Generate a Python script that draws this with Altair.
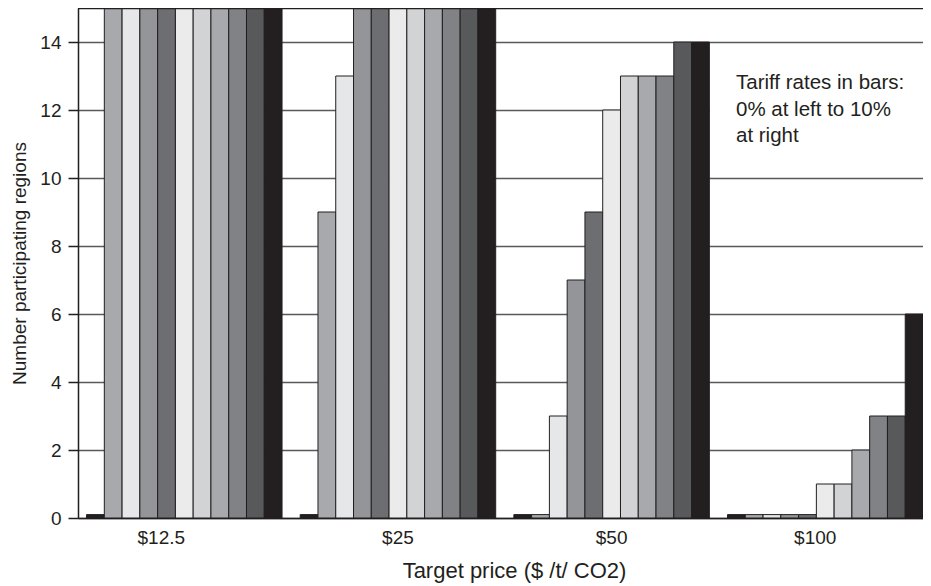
import altair as alt
import pandas as pd

# ---- data ----
prices = ["$12.5", "$25", "$50", "$100"]
tariffs = ["0%", "1%", "2%", "3%", "4%", "5%", "6%", "7%", "8%", "9%", "10%"]
vals_125 = [0.1, 15, 15, 15, 15, 15, 15, 15, 15, 15, 15]
vals_25 = [0.1, 9, 13, 15, 15, 15, 15, 15, 15, 15, 15]
vals_50 = [0.1, 0.1, 3, 7, 9, 12, 13, 13, 13, 14, 14]
vals_100 = [0.1, 0.1, 0.1, 0.1, 0.1, 1, 1, 2, 3, 3, 6]
bar_colors = ["#231f20", "#a7a9ac", "#e6e7e8", "#939598", "#6d6e71", "#ebebec",
              "#d1d3d4", "#a7a9ac", "#808285", "#58595b", "#231f20"]
y_ticks = [0, 2, 4, 6, 8, 10, 12, 14]
annot_text = "Tariff rates in bars:\n0% at left to 10%\nat right"
x_title = "Target price ($ /t/ CO2)"
y_title = "Number participating regions"

rows = []
for p, vals in zip(prices, [vals_125, vals_25, vals_50, vals_100]):
    for t, v in zip(tariffs, vals):
        rows.append({"price": p, "tariff": t, "value": v})
df = pd.DataFrame(rows)

W, H = 845, 510
FONT = "Liberation Sans"
INK = "#231f20"

bars = alt.Chart(df).mark_bar(stroke=INK, strokeWidth=1).encode(
    x=alt.X(
        "price:N",
        sort=prices,
        scale=alt.Scale(paddingInner=0.085, paddingOuter=0.02, align=1),
        axis=alt.Axis(
            title=x_title,
            ticks=False,
            labelAngle=0,
            labelPadding=10,
            labelBaseline="top",
            labelFontSize=19,
            labelOffset={"condition": [
                {"test": "datum.value == '$12.5'", "value": -23},
                {"test": "datum.value == '$100'", "value": -10},
            ], "value": 0},
            titleFontSize=22,
            titlePadding=13,
            titleX=436,
            domainColor=INK,
            domainWidth=1.5,
        ),
    ),
    xOffset=alt.XOffset("tariff:N", sort=tariffs,
                        scale=alt.Scale(paddingInner=0, paddingOuter=0)),
    y=alt.Y(
        "value:Q",
        scale=alt.Scale(domain=[0, 15], nice=False),
        axis=alt.Axis(
            title=y_title,
            values=y_ticks,
            grid=True,
            gridColor="#58595b",
            gridWidth=1.5,
            tickSize=10,
            tickColor=INK,
            tickWidth=1.5,
            labelPadding=7,
            labelFontSize=19,
            titleFontSize=19,
            titlePadding=10,
            domainColor=INK,
            domainWidth=1.5,
        ),
    ),
    color=alt.Color("tariff:N", sort=tariffs,
                    scale=alt.Scale(domain=tariffs, range=bar_colors), legend=None),
)

# white backing behind the annotation (hides the gridline there, as in the reference)
annot_bg = alt.Chart(pd.DataFrame({"a": [0]})).mark_rect(color="white").encode(
    x=alt.value(632), x2=alt.value(W), y=alt.value(47), y2=alt.value(152)
)

top_line = alt.Chart(pd.DataFrame({"a": [0]})).mark_rule(color=INK, strokeWidth=2.5).encode(
    x=alt.value(0), x2=alt.value(W), y=alt.value(0)
)

annot = alt.Chart(pd.DataFrame({"t": [annot_text]})).mark_text(
    align="left", baseline="top", lineBreak="\n", fontSize=20.5, lineHeight=26.5,
    font=FONT, color=INK,
).encode(text="t:N", x=alt.value(658), y=alt.value(65))

chart = alt.layer(bars, annot_bg, top_line, annot).properties(
    width=W, height=H,
    autosize=alt.AutoSizeParams(type="none"),
    padding={"left": 70, "top": 0, "right": 0, "bottom": 68},
    background="white",
).configure_view(stroke=None).configure_axis(
    labelFont=FONT, titleFont=FONT,
    labelColor=INK, titleColor=INK, titleFontWeight="normal",
)

chart.save("out.html", embed_options={"renderer": "svg", "actions": False})
